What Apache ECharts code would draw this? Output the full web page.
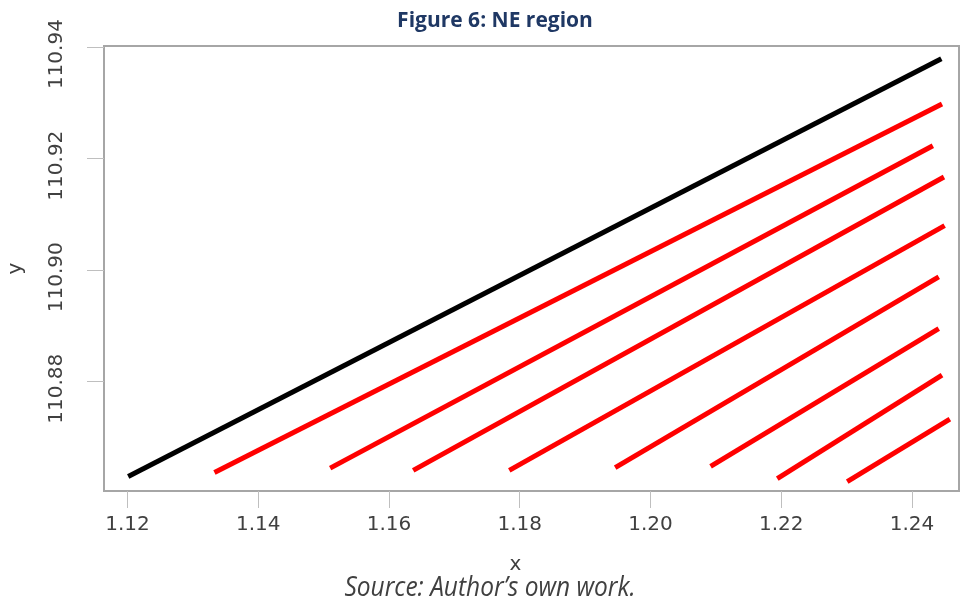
<!DOCTYPE html>
<html>
<head>
<meta charset="utf-8">
<script src="https://cdn.jsdelivr.net/npm/echarts@6/dist/echarts.min.js"></script>
<style>
html,body{margin:0;padding:0;background:#fff;}
#chart{width:961px;height:597px;}
</style>
</head>
<body>
<div id="chart"></div>
<script>
// ---- data ----
const xTicks = [1.12, 1.14, 1.16, 1.18, 1.20, 1.22, 1.24];
const yTicks = [110.88, 110.90, 110.92, 110.94];

const blackX = [1.1201, 1.2445];
const blackY = [110.8630, 110.9379];

const redStartX = [1.1333, 1.1510, 1.1637, 1.1784, 1.1946, 1.2092, 1.2194, 1.2301];
const redStartY = [110.8637, 110.8645, 110.8641, 110.8641, 110.8646, 110.8648, 110.8626, 110.8621];
const redEndX   = [1.2446, 1.2432, 1.2449, 1.2450, 1.2441, 1.2441, 1.2446, 1.2458];
const redEndY   = [110.9298, 110.9223, 110.9167, 110.9080, 110.8988, 110.8895, 110.8812, 110.8733];

const titleText = 'Figure 6: NE region';
const sourceText = 'Source: Author\u2019s own work.';

// ---- build chart ----
const series = [];
series.push({
  type: 'line', silent: true, symbol: 'none', animation: false,
  lineStyle: { color: '#000000', width: 5, cap: 'butt' },
  data: blackX.map((x, i) => [x, blackY[i]])
});
redStartX.forEach((x0, i) => {
  series.push({
    type: 'line', silent: true, symbol: 'none', animation: false,
    lineStyle: { color: '#ff0000', width: 5, cap: 'butt' },
    data: [[x0, redStartY[i]], [redEndX[i], redEndY[i]]]
  });
});

const labelColor = '#404040';
const chart = echarts.init(document.getElementById('chart'), null, { renderer: 'canvas' });
chart.setOption({
  animation: false,
  backgroundColor: '#ffffff',
  title: {
    text: titleText,
    left: 490, top: 6, textAlign: 'center',
    textStyle: { fontFamily: 'Open Sans', fontWeight: 'bold', fontSize: 21, color: '#1f3864' }
  },
  grid: {
    left: 104, right: 2, top: 46, bottom: 106,
    outerBoundsMode: 'none', containLabel: false,
    show: true, borderColor: '#a6a6a6', borderWidth: 2, backgroundColor: 'transparent'
  },
  xAxis: {
    type: 'value', min: 1.1164, max: 1.2472,
    name: 'x', nameLocation: 'middle', nameGap: 64,
    nameTextStyle: { fontFamily: 'DejaVu Sans', fontSize: 20, color: labelColor, padding: [0, 32, 0, 0] },
    axisLine: { show: false },
    splitLine: { show: false },
    axisTick: { show: true, length: 17, customValues: xTicks, lineStyle: { color: '#bfbfbf', width: 1 } },
    axisLabel: {
      customValues: xTicks, margin: 24,
      fontFamily: 'DejaVu Sans', fontSize: 20, color: labelColor,
      formatter: v => v.toFixed(2)
    }
  },
  yAxis: {
    type: 'value', min: 110.8604, max: 110.9402,
    name: 'y', nameLocation: 'middle', nameGap: 78, nameRotate: 90,
    nameTextStyle: { fontFamily: 'DejaVu Sans', fontSize: 20, color: labelColor },
    axisLine: { show: false },
    splitLine: { show: false },
    axisTick: { show: true, length: 17, customValues: yTicks, lineStyle: { color: '#bfbfbf', width: 1 } },
    axisLabel: {
      customValues: yTicks, margin: 37, rotate: 90,
      padding: [0, 14, 0, 0],
      fontFamily: 'DejaVu Sans', fontSize: 20, color: labelColor,
      formatter: v => v.toFixed(2)
    }
  },
  graphic: [{
    type: 'text', x: 490, y: 574, scaleX: 0.875,
    style: {
      text: sourceText, textAlign: 'center', textVerticalAlign: 'top',
      fontFamily: 'Open Sans', fontStyle: 'italic', fontSize: 28, fill: '#404040'
    }
  }],
  series: series
});
</script>
</body>
</html>
